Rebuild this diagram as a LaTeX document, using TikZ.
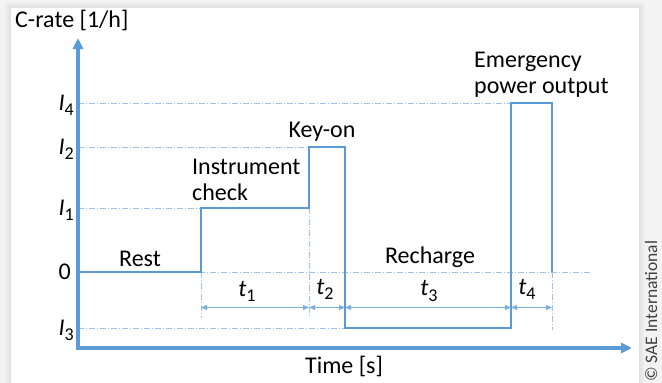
\documentclass[tikz,border=0pt]{standalone}
\usepackage{fontspec}
\setmainfont{Carlito}
\usetikzlibrary{arrows.meta}
\definecolor{wave}{HTML}{5B9BD5}
\definecolor{guide}{HTML}{9DC3E6}
\definecolor{bggray}{HTML}{F3F3F3}
\newcommand{\sym}[2]{\textit{#1}\raisebox{-0.45ex}{\fontsize{18}{18}\selectfont #2}}
\begin{document}
\begin{tikzpicture}[x=1pt,y=-1pt,
  txt/.style={inner sep=0pt,font=\fontsize{24}{26}\selectfont},
  guideline/.style={guide,line width=0.8pt,dash pattern=on 6pt off 2pt on 1pt off 2pt},
  dimline/.style={wave!80,line width=0.8pt,{Triangle[length=6pt,width=5pt]}-{Triangle[length=6pt,width=5pt]}},
  curve/.style={wave,line width=2.6pt,line join=miter},
  axis/.style={wave,line width=3.2pt,-{Triangle[length=11pt,width=10pt]}}]
\useasboundingbox (0,0) rectangle (662,383);
% page background and panel with soft shadow
\fill[bggray] (0,0) rectangle (662,383);
\foreach \d in {1,...,6}
  \fill[black,opacity=0.012] (11-\d,8-\d) rectangle (639+\d,390);
\fill[white] (11,8) rectangle (639,390);

% key points
\coordinate (O) at (78,348);
\coordinate (ytop) at (78,38);
\coordinate (xend) at (632,348);
\coordinate (p0) at (78,272);
\coordinate (p1) at (201,272);
\coordinate (p2) at (201,208);
\coordinate (p3) at (309,208);
\coordinate (p4) at (309,147);
\coordinate (p5) at (345,147);
\coordinate (p6) at (345,328);
\coordinate (p7) at (511,328);
\coordinate (p8) at (511,103);
\coordinate (p9) at (552,103);
\coordinate (p10) at (552,272);

% level guides
\draw[guideline] (78,103) -- (p8);
\draw[guideline] (78,147) -- (p4);
\draw[guideline] (78,208) -- (p2);
\draw[guideline] (p0) -- (592,272);
\draw[guideline] (78,328) -- (p6);
% extension lines
\draw[guideline] (p1) -- (201,318);
\draw[guideline] (p3) -- (309,318);
\draw[guideline] (p10) -- (552,330);

% dimension arrows
\coordinate (d1) at (201,307.5);
\coordinate (d2) at (309,307.5);
\coordinate (d3) at (345,307.5);
\coordinate (d4) at (511,307.5);
\coordinate (d5) at (552,307.5);
\draw[dimline] (d1) -- (d2);
\draw[dimline] (d2) -- (d3);
\draw[dimline] (d3) -- (d4);
\draw[dimline] (d4) -- (d5);

% C-rate profile
\draw[curve] (p0) -- (p1) -- (p2) -- (p3) -- (p4) -- (p5) -- (p6) -- (p7) -- (p8) -- (p9) -- (p10);

% axes
\draw[axis] (O) -- (ytop);
\draw[axis] ([xshift=-1.6pt]O) -- (xend);

% axis labels
\node[txt,anchor=west] (ylab) at (15,20) {C-rate [1/h]};
\node[txt] (xlab) at (344,366) {Time [s]};
\node[txt,anchor=east] (lI4) at (74,105) {\sym{I}{4}};
\node[txt,anchor=east] (lI2) at (74,149) {\sym{I}{2}};
\node[txt,anchor=east] (lI1) at (74,210) {\sym{I}{1}};
\node[txt,anchor=east] (l0) at (71,272) {0};
\node[txt,anchor=east] (lI3) at (74,330) {\sym{I}{3}};

% phase labels
\node[txt] (rest) at (140,259) {Rest};
\node[txt,anchor=west,align=left] (instr) at (192,180) {Instrument\\check};
\node[txt] (keyon) at (322,132) {Key-on};
\node[txt] (rech) at (430,257) {Recharge};
\node[txt,anchor=west,align=left] (emerg) at (474,75) {Emergency\\power output};

% durations
\node[txt] (t1) at (247,291) {\sym{t}{1}};
\node[txt] (t2) at (325,289) {\sym{t}{2}};
\node[txt] (t3) at (429,291) {\sym{t}{3}};
\node[txt] (t4) at (527,289) {\sym{t}{4}};

% copyright
\node[inner sep=0pt,rotate=90,anchor=west,text=black!75,font=\fontsize{17.5}{17.5}\selectfont] (copy) at (651,382) {© SAE International};
\end{tikzpicture}
\end{document}
